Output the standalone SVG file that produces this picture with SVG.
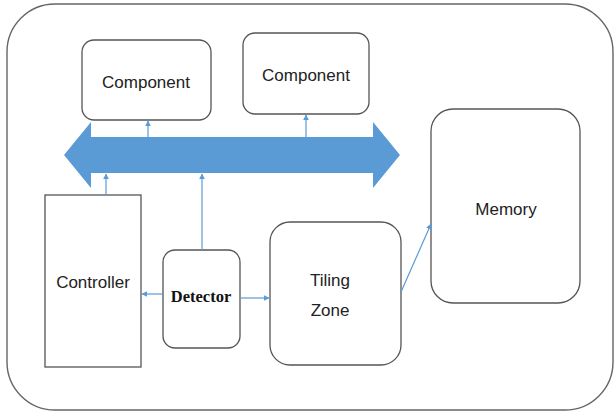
<svg xmlns="http://www.w3.org/2000/svg" width="615" height="412" viewBox="0 0 615 412">
<style>
.box{fill:#fff;stroke:#555;stroke-width:1.3}
.lbl{font-family:"Liberation Sans",Arial,sans-serif;font-size:17px;fill:#222;text-anchor:middle}
.det{font-family:"Liberation Serif","Times New Roman",serif;font-size:16.5px;font-weight:bold;fill:#111;text-anchor:middle}
.con{stroke:#5b9bd5;stroke-width:1.2;fill:none;marker-end:url(#ah)}
</style>
<defs>
<marker id="ah" viewBox="0 0 10 10" refX="9" refY="5" markerWidth="6" markerHeight="6" markerUnits="userSpaceOnUse" orient="auto">
<path d="M0,0 L10,5 L0,10 z" fill="#5b9bd5"/>
</marker>
</defs>
<rect width="615" height="412" fill="#fff"/>
<g id="system"><rect x="7" y="4" width="606" height="406" rx="48" ry="48" fill="none" stroke="#666" stroke-width="1.4"/></g>
<g id="component1"><rect class="box" x="82" y="40" width="129" height="80" rx="12"/><text class="lbl" x="146" y="88">Component</text></g>
<g id="component2"><rect class="box" x="243" y="33" width="126" height="81" rx="12"/><text class="lbl" x="306" y="81">Component</text></g>
<g id="bus"><path d="M64,155 L91,122 L91,137 L373,137 L373,122 L400,155 L373,188 L373,173 L91,173 L91,188 z" fill="#5b9bd5"/></g>
<g id="memory"><rect class="box" x="431" y="109" width="149" height="194" rx="22"/><text class="lbl" x="506" y="215">Memory</text></g>
<g id="controller"><rect class="box" x="45" y="195" width="96" height="172"/><text class="lbl" x="93" y="288">Controller</text></g>
<g id="detector"><rect class="box" x="163" y="250" width="77" height="98" rx="12"/><text class="det" x="201" y="302">Detector</text></g>
<g id="tiling"><rect class="box" x="270" y="222" width="131" height="143" rx="20"/><text class="lbl" x="330" y="286">Tiling</text><text class="lbl" x="330" y="316">Zone</text></g>
<g id="connectors">
<line class="con" x1="148" y1="137" x2="148" y2="121"/>
<line class="con" x1="306" y1="137" x2="306" y2="115"/>
<line class="con" x1="106" y1="195" x2="106" y2="174"/>
<line class="con" x1="202" y1="250" x2="202" y2="174"/>
<line class="con" x1="163" y1="294" x2="142" y2="294"/>
<line class="con" x1="240" y1="298" x2="269" y2="298"/>
<line class="con" x1="401" y1="292" x2="431" y2="224"/>
</g>
</svg>
